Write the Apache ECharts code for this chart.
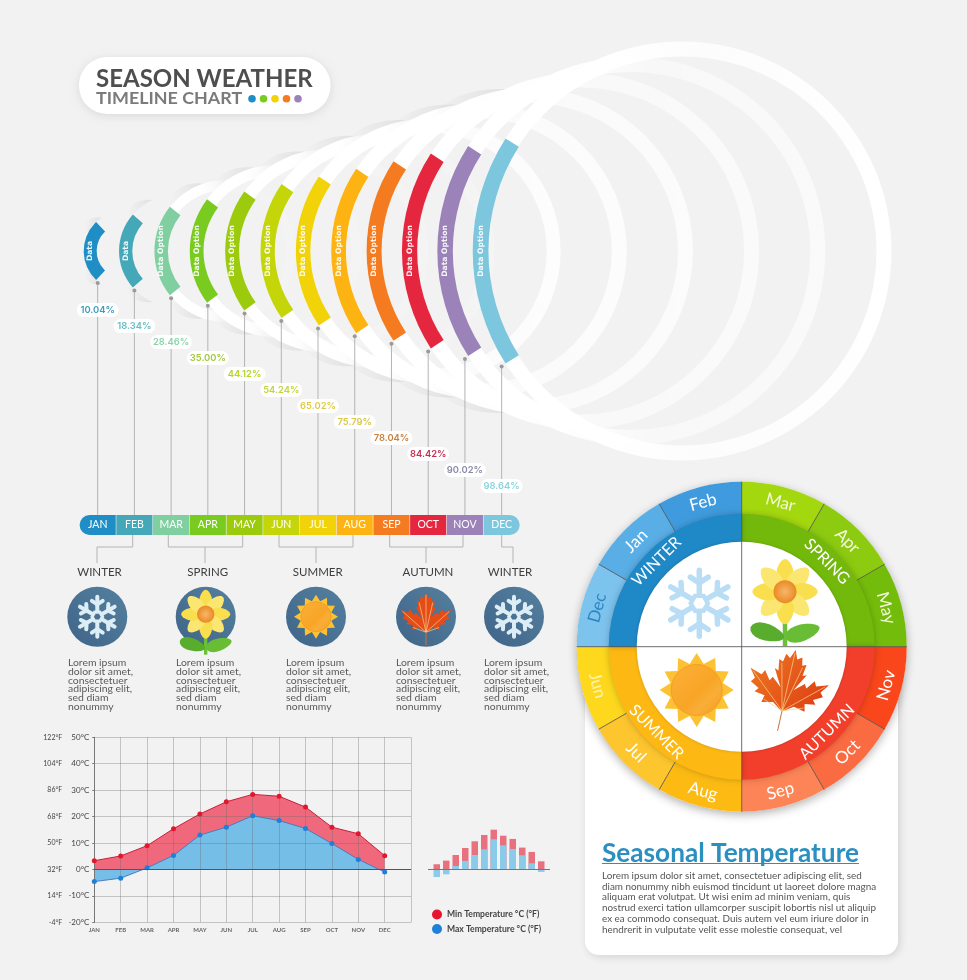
<!DOCTYPE html>
<html>
<head>
<meta charset="utf-8">
<title>Season Weather Timeline Chart</title>
<script src="https://cdn.jsdelivr.net/npm/echarts@6/dist/echarts.min.js"></script>
<style>
html, body { margin: 0; padding: 0; background: #f2f2f2; }
#main { width: 967px; height: 980px; }
</style>
</head>
<body>
<div id="main"></div>
<script>
// ---- data ----
var months = ['JAN', 'FEB', 'MAR', 'APR', 'MAY', 'JUN', 'JUL', 'AUG', 'SEP', 'OCT', 'NOV', 'DEC'];
var percents = [10.04, 18.34, 28.46, 35.00, 44.12, 54.24, 65.02, 75.79, 78.04, 84.42, 90.02, 98.64];
var arcLabels = ['Data', 'Data', 'Data Option', 'Data Option', 'Data Option', 'Data Option', 'Data Option', 'Data Option', 'Data Option', 'Data Option', 'Data Option', 'Data Option'];
var minTemp = [3.3, 5.1, 9, 15.4, 21, 25.6, 28.4, 27.7, 23.6, 16, 13.5, 5.2];
var maxTemp = [-4.6, -3.3, 0.6, 5.3, 13, 16, 20.3, 18.5, 15.5, 9.8, 3.8, -1];
var miniMin = [3.6, 6.2, 10.2, 15.2, 20, 24.5, 28.3, 24, 21.7, 15.5, 12.4, 5.7];
var miniMax = [-5.5, -3.6, 2.4, 6, 10.2, 14.3, 21.4, 17.1, 14.5, 10, 4.3, -1.9];
var fLabels = ['-4°F', '14°F', '32°F', '50°F', '68°F', '86°F', '104°F', '122°F'];
var wheelMonths = ['Mar', 'Apr', 'May', 'Nov', 'Oct', 'Sep', 'Aug', 'Jul', 'Jun', 'Dec', 'Jan', 'Feb'];
var wheelSeasons = ['SPRING', 'AUTUMN', 'SUMMER', 'WINTER'];
var seasonNames = ['WINTER', 'SPRING', 'SUMMER', 'AUTUMN', 'WINTER'];
var seasonIcons = ['snow', 'flower', 'sun', 'leaf', 'snow'];
var loremShort = 'Lorem ipsum\ndolor sit amet,\nconsectetuer\nadipiscing elit,\nsed diam\nnonummy';
var loremLong = 'Lorem ipsum dolor sit amet, consectetuer adipiscing elit, sed\ndiam nonummy nibh euismod tincidunt ut laoreet dolore magna\naliquam erat volutpat. Ut wisi enim ad minim veniam, quis\nnostrud exerci tation ullamcorper suscipit lobortis nisl ut aliquip\nex ea commodo consequat. Duis autem vel eum iriure dolor in\nhendrerit in vulputate velit esse molestie consequat, vel';

// ---- colours ----
var monthColors = ['#1f8ec4', '#45a8b8', '#7fcfa0', '#7acb1f', '#9ccb0e', '#c4d50a', '#f2d30a', '#fdb413', '#f47b20', '#e5263f', '#9b82b8', '#7cc7de'];
var pctColors = ['#3c9cbc', '#68bcc4', '#8cd4a8', '#a4c83c', '#b4d42c', '#c4d43c', '#e0cc40', '#d8c844', '#c88040', '#c43050', '#8a8aa8', '#8cd4dc'];
var ringFade = [0.12, 0.12, 0.12, 0.12, 0.14, 0.2, 0.85, 0.8, 0.75, 0.65, 0.6, 1];
var wheelMonthColors = ['#a4d80e', '#8ccb10', '#74bc0b', '#f9461a', '#fb6b42', '#fc8456', '#fcba13', '#fdc52e', '#fdd81d', '#7cc3ee', '#59aee6', '#3f9bdd'];
var wheelMonthText = ['#f4f8dc', '#f4f8dc', '#f4f8dc', '#fff', '#fff', '#fff', '#fff', '#fff', '#fff3b0', '#2e86c1', '#fff', '#fff'];
var wheelSeasonColors = ['#72b90b', '#f23f2b', '#fdb813', '#1f88c6'];
var FONT = 'Lato', WIDE = '"DejaVu Sans"';

var wheelX = 741.7, wheelY = 646.7;
var arcY = 251;

function arcGeom(i, stemX) {
	var left = stemX - (14 + 1.36 * i);
	var r = 40 + 15.4 * i;
	return { cx: left + r, r: r, hh: 29 + 7.6 * i, w: 13 + 0.25 * i };
}

// soft wedge on the outer side of a ring, near its top and bottom
function ringWedge(g, sign) {
	var tipX = Math.min(22, g.r * 0.55);
	var a0 = Math.acos(-tipX / g.r);
	var pts = [], n = 10, sweep = 0.5;
	for (var k = 0; k <= n; k++) {
		var a = a0 + sweep * k / n;
		pts.push([g.cx + Math.cos(a) * g.r, arcY - sign * Math.sin(a) * g.r]);
	}
	for (k = n; k >= 0; k--) {
		a = a0 + sweep * k / n;
		var rr = g.r + Math.sin(k / n * Math.PI * 0.75) * 7;
		pts.push([g.cx + Math.cos(a) * rr, arcY - sign * Math.sin(a) * rr]);
	}
	return {
		type: 'polygon', shape: { points: pts },
		style: {
			fill: new echarts.graphic.LinearGradient(1, 0, 0, 0, [
				{ offset: 0, color: 'rgba(0,0,0,0.07)' },
				{ offset: 1, color: 'rgba(0,0,0,0)' }
			])
		}
	};
}

// white rings behind the coloured arcs
function renderRing(params, api) {
	var i = api.value(0);
	var x = api.coord([i, 0])[0];
	var g = arcGeom(i, x);
	var fade = ringFade[i];
	var kids = [];
	if (i < 9) {
		kids.push(ringWedge(g, 1));
		kids.push(ringWedge(g, -1));
	}
	// the two smallest arcs have no visible ring, only the soft shade
	if (i >= 2) {
		kids.push({
			type: 'ring',
			shape: { cx: g.cx, cy: arcY, r: g.r, r0: g.r - Math.min(15, 8 + i) },
			style: {
				fill: new echarts.graphic.LinearGradient(0, 0, 1, 0, [
					{ offset: 0, color: 'rgba(255,255,255,1)' },
					{ offset: 0.32, color: 'rgba(255,255,255,1)' },
					{ offset: 0.55, color: 'rgba(255,255,255,' + fade * 0.8 + ')' },
					{ offset: 1, color: 'rgba(255,255,255,' + fade + ')' }
				])
			}
		});
	}
	return { type: 'group', children: kids };
}

// coloured arc, stem, percent pill and the timeline cell of a month
function renderMonth(params, api) {
	var i = api.value(0);
	var x = api.coord([i, 0])[0];
	var band = api.size([1, 0])[0];
	var g = arcGeom(i, x);
	var a = Math.asin(g.hh / g.r);
	var bottom = arcY + g.hh + 3;
	var pillY = api.coord([i, 310 + 16 * i])[1];
	var top = api.coord([i, 515])[1], h = 20;
	var radius = i == 0 ? [10, 0, 0, 10] : (i == 11 ? [0, 10, 10, 0] : 0);
	var kids = [
		{ type: 'line', shape: { x1: x, y1: bottom, x2: x, y2: top }, style: { stroke: '#b4b4b4', lineWidth: 1 } },
		{ type: 'circle', shape: { cx: x, cy: bottom, r: 2 }, style: { fill: '#9a9a9a' } },
		{ type: 'sector', shape: { cx: g.cx, cy: arcY, r: g.r, r0: g.r - g.w, startAngle: Math.PI - a, endAngle: Math.PI + a }, style: { fill: monthColors[i] } },
		{ type: 'text', x: g.cx - g.r + g.w / 2, y: arcY, rotation: Math.PI / 2,
			style: { text: arcLabels[i], x: 0, y: 0, fill: '#fff', opacity: 0.92, font: 'bold 7.6px ' + WIDE, align: 'center', verticalAlign: 'middle' } },
		{ type: 'rect', shape: { x: x - 21, y: pillY - 7, width: 42, height: 14, r: 7 }, style: { fill: '#fff' } },
		{ type: 'text', style: { text: percents[i].toFixed(2) + '%', x: x, y: pillY, fill: pctColors[i], font: '600 9.4px Inter', align: 'center', verticalAlign: 'middle' } },
		{ type: 'rect', shape: { x: x - band / 2 + 0.3, y: top, width: band - 0.6, height: h, r: radius }, style: { fill: monthColors[i] } },
		{ type: 'text', style: { text: months[i], x: x, y: top + h / 2, fill: '#fff', font: '10.5px ' + FONT, align: 'center', verticalAlign: 'middle' } }
	];
	return { type: 'group', children: kids };
}

// ---- icon helpers, each returns a flat list of graphic elements ----
function blob(cx, cy, len, wid, ang, fill, z) {
	var pts = [];
	for (var k = 0; k < 20; k++) {
		var t = k / 20 * Math.PI * 2;
		var px = Math.cos(t) * len, py = Math.sin(t) * wid * (1 - 0.2 * Math.cos(t));
		pts.push([cx + px * Math.cos(ang) - py * Math.sin(ang), cy + px * Math.sin(ang) + py * Math.cos(ang)]);
	}
	return { type: 'polygon', shape: { points: pts }, style: { fill: fill }, z: z };
}

function snowIcon(cx, cy, R, color, lw, z) {
	var out = [];
	function seg(x1, y1, x2, y2) {
		out.push({ type: 'line', shape: { x1: x1, y1: y1, x2: x2, y2: y2 }, style: { stroke: color, lineWidth: lw, lineCap: 'round' }, z: z });
	}
	var hex = [];
	for (var k = 0; k < 6; k++) {
		var a = Math.PI / 2 + k * Math.PI / 3;
		var c = Math.cos(a), s = Math.sin(a);
		seg(cx + c * R * 0.28, cy + s * R * 0.28, cx + c * R, cy + s * R);
		var bx = cx + c * R * 0.62, by = cy + s * R * 0.62;
		seg(bx, by, bx + Math.cos(a + 1) * R * 0.32, by + Math.sin(a + 1) * R * 0.32);
		seg(bx, by, bx + Math.cos(a - 1) * R * 0.32, by + Math.sin(a - 1) * R * 0.32);
		hex.push([cx + Math.cos(a + Math.PI / 6) * R * 0.26, cy + Math.sin(a + Math.PI / 6) * R * 0.26]);
	}
	out.push({ type: 'polygon', shape: { points: hex }, style: { fill: 'none', stroke: color, lineWidth: lw * 0.8 }, z: z });
	return out;
}

function flowerIcon(cx, cy, R, stemEnd, z) {
	var out = [];
	// stem and leaves
	out.push({ type: 'line', shape: { x1: cx, y1: cy, x2: cx, y2: stemEnd }, style: { stroke: '#6cbf3a', lineWidth: R * 0.14 }, z: z });
	var ly = stemEnd - R * 0.42;
	out.push(blob(cx - R * 0.55, ly, R * 0.55, R * 0.26, 0.3, '#58ad2c', z));
	out.push(blob(cx + R * 0.55, ly, R * 0.55, R * 0.26, -0.3, '#69bd35', z));
	for (var k = 0; k < 8; k++) {
		var a = k * Math.PI / 4 - Math.PI / 2;
		out.push(blob(cx + Math.cos(a) * R * 0.6, cy + Math.sin(a) * R * 0.6, R * 0.42, R * 0.27, a, k % 2 ? '#fbe672' : '#f9de4e', z + 1));
	}
	out.push({
		type: 'circle', shape: { cx: cx, cy: cy, r: R * 0.36 },
		style: { fill: new echarts.graphic.RadialGradient(0.5, 0.5, 0.5, [{ offset: 0, color: '#f9b66a' }, { offset: 1, color: '#e98a25' }]) }, z: z + 2
	});
	return out;
}

function sunIcon(cx, cy, R, r, z) {
	var pts = [];
	for (var k = 0; k < 24; k++) {
		var a = k * Math.PI / 12 - Math.PI / 2;
		var d = k % 2 ? r * 1.06 : R;
		pts.push([cx + Math.cos(a) * d, cy + Math.sin(a) * d]);
	}
	return [
		{ type: 'polygon', shape: { points: pts }, style: { fill: '#fcc233' }, z: z },
		{ type: 'circle', shape: { cx: cx, cy: cy, r: r },
			style: { fill: new echarts.graphic.LinearGradient(0, 0, 1, 1, [{ offset: 0, color: '#fbb03a' }, { offset: 0.55, color: '#f8a526' }, { offset: 0.7, color: '#f9ae38' }, { offset: 1, color: '#f59a1b' }]), stroke: '#f2a022', lineWidth: 1 }, z: z + 1 }
	];
}

function leafIcon(cx, cy, R, rot, fill, z) {
	var half = [[0, -1], [0.09, -0.78], [0.2, -0.86], [0.24, -0.66], [0.34, -0.7], [0.3, -0.42], [0.4, -0.46], [0.16, -0.03], [0.4, -0.24], [0.46, -0.14], [0.62, -0.36], [0.68, -0.24], [0.98, -0.34], [0.82, -0.12], [0.9, -0.02], [0.68, 0.1], [0.76, 0.2], [0.5, 0.24], [0.54, 0.42], [0.26, 0.36], [0.03, 0.52]];
	var unit = half.concat(half.slice().reverse().map(function (p) { return [-p[0], p[1]]; }));
	function tf(p) {
		return [cx + R * (p[0] * Math.cos(rot) - p[1] * Math.sin(rot)), cy + R * (p[0] * Math.sin(rot) + p[1] * Math.cos(rot))];
	}
	var out = [{ type: 'polygon', shape: { points: unit.map(tf) }, style: { fill: fill }, z: z }];
	var base = tf([0, 0.52]);
	[[0, -0.92], [0.9, -0.28], [-0.9, -0.28], [0.5, 0.34], [-0.5, 0.34], [0.26, -0.62], [-0.26, -0.62]].forEach(function (t) {
		var e = tf(t);
		out.push({ type: 'line', shape: { x1: base[0], y1: base[1], x2: e[0], y2: e[1] }, style: { stroke: '#f8cf8a', lineWidth: Math.max(0.7, R * 0.018) }, z: z + 1 });
	});
	var st = tf([0, 1.02]);
	out.push({ type: 'line', shape: { x1: base[0], y1: base[1], x2: st[0], y2: st[1] }, style: { stroke: '#c9733a', lineWidth: 1 }, z: z + 1 });
	return out;
}

// ---- fixed decoration ----
var graphics = [];
function add(list) { graphics = graphics.concat(list); }

// title pill
add([{ type: 'rect', shape: { x: 79, y: 57, width: 251.5, height: 57, r: 28 }, style: { fill: '#fff', shadowBlur: 8, shadowColor: 'rgba(0,0,0,0.1)', shadowOffsetY: 2 }, z: 5 }]);
['#1f8ec4', '#7acb1f', '#f2d30a', '#f47b20', '#9b82b8'].forEach(function (c, i) {
	add([{ type: 'circle', shape: { cx: 252 + i * 11.5, cy: 98.7, r: 3.8 }, style: { fill: c }, z: 6 }]);
});

// brackets under the timeline
var lineGrey = '#b4b4b4';
[
	[[97, 563], [97, 547], [132.7, 547], [132.7, 535]],
	[[168.3, 535], [168.3, 547], [242.7, 547], [242.7, 535]],
	[[205, 547], [205, 563]],
	[[279, 535], [279, 547], [353, 547], [353, 535]],
	[[316, 547], [316, 563]],
	[[389.7, 535], [389.7, 547], [463, 547], [463, 535]],
	[[426, 547], [426, 563]],
	[[501.7, 535], [501.7, 547], [513, 547], [513, 563]]
].forEach(function (pts) {
	add([{ type: 'polyline', shape: { points: pts }, style: { stroke: lineGrey, fill: 'none', lineWidth: 1 }, z: 1 }]);
});

// season columns
var columnX = [97.3, 205.7, 316, 426, 514];
var labelX = [99.5, 207.7, 317.7, 428, 510];
var textX = [68, 176, 286, 396, 484];
seasonNames.forEach(function (name, i) {
	var cx = columnX[i], cy = 616.7;
	add([
		{ type: 'text', style: { text: name, x: labelX[i], y: 572, fill: '#3d3d3d', font: '11.5px ' + FONT, align: 'center', verticalAlign: 'middle' }, z: 5 },
		{ type: 'circle', shape: { cx: cx, cy: cy, r: 30 },
			style: { fill: new echarts.graphic.LinearGradient(1, 0, 0, 1, [{ offset: 0, color: '#55809f' }, { offset: 1, color: '#3f6488' }]) }, z: 5 },
		{ type: 'text', style: { text: loremShort, x: textX[i], y: 658.5, fill: '#5a5a5a', font: '10.4px ' + FONT, lineHeight: 8.67, align: 'left', verticalAlign: 'top' }, z: 5 }
	]);
	if (seasonIcons[i] == 'snow') add(snowIcon(cx, cy, 20, '#dcedf5', 4, 6));
	if (seasonIcons[i] == 'flower') add(flowerIcon(cx, cy - 2.5, 24, cy + 38, 6));
	if (seasonIcons[i] == 'sun') add(sunIcon(cx, cy, 22, 15, 6));
	if (seasonIcons[i] == 'leaf') add(leafIcon(cx, cy + 2, 26, 0, '#e44c18', 6));
});

// white card and wheel decoration
add([
	{ type: 'rect', shape: { x: 585, y: 660, width: 313, height: 295, r: 14 }, style: { fill: '#fff', shadowBlur: 8, shadowColor: 'rgba(0,0,0,0.13)', shadowOffsetX: 2, shadowOffsetY: 2 }, z: 0 },
	{ type: 'circle', shape: { cx: wheelX, cy: wheelY, r: 165 }, style: { fill: '#fff', shadowBlur: 10, shadowColor: 'rgba(0,0,0,0.3)', shadowOffsetY: 3 }, z: 1 },
	{ type: 'circle', shape: { cx: wheelX, cy: wheelY, r: 105 }, style: { fill: '#fff', shadowBlur: 3, shadowColor: 'rgba(0,0,0,0.2)' }, z: 5 },
	{ type: 'line', shape: { x1: wheelX - 165, y1: wheelY, x2: wheelX + 165, y2: wheelY }, style: { stroke: '#4a4a4a', lineWidth: 0.8 }, z: 6 },
	{ type: 'line', shape: { x1: wheelX, y1: wheelY - 165, x2: wheelX, y2: wheelY + 165 }, style: { stroke: '#4a4a4a', lineWidth: 0.8 }, z: 6 }
]);
[30, 60, 120, 150, 210, 240, 300, 330].forEach(function (deg) {
	var a = deg * Math.PI / 180;
	add([{ type: 'line', shape: { x1: wheelX + Math.cos(a) * 133, y1: wheelY + Math.sin(a) * 133, x2: wheelX + Math.cos(a) * 165, y2: wheelY + Math.sin(a) * 165 }, style: { stroke: '#4a4a4a', lineWidth: 0.8 }, z: 6 }]);
});
add(snowIcon(699.3, 603.3, 33, '#b9ddf5', 5.5, 7));
add(flowerIcon(785, 591.7, 32, 646, 7));
add(sunIcon(696.7, 690, 37, 25.5, 7));
add(leafIcon(786.7, 690, 41, 0.22, new echarts.graphic.LinearGradient(0, 0, 1, 1, [{ offset: 0, color: '#ee7a22' }, { offset: 1, color: '#dd3a12' }]), 7));

// card text
add([
	{ type: 'line', shape: { x1: 602, y1: 863.5, x2: 859, y2: 863.5 }, style: { stroke: '#2b8fc0', lineWidth: 1.2 }, z: 6 },
	{ type: 'text', style: { text: loremLong, x: 602, y: 870.5, fill: '#555', font: '9.9px ' + FONT, lineHeight: 10.7, align: 'left', verticalAlign: 'top' }, z: 6 },
	{ type: 'line', shape: { x1: 428, y1: 869.5, x2: 550, y2: 869.5 }, style: { stroke: '#6a7a86', lineWidth: 1 }, z: 6 }
]);

// ---- chart ----
var myChart = echarts.init(document.getElementById('main'));
var monthData = months.map(function (m, i) { return [i, percents[i]]; });
var MIN_NAME = 'Min Temperature °C (°F)', MAX_NAME = 'Max Temperature °C (°F)';

var option = {
	backgroundColor: '#f2f2f2',
	animation: false,
	title: [
		{ text: 'SEASON WEATHER', left: 96, top: 67, padding: 0, textStyle: { fontFamily: FONT, fontSize: 24, fontWeight: 'bold', color: '#4e4e4e' } },
		{ text: 'TIMELINE CHART', left: 96, top: 89, padding: 0, textStyle: { fontFamily: FONT, fontSize: 17.9, fontWeight: 'bold', color: '#7b7b7b' } },
		{ text: 'Seasonal Temperature', left: 602, top: 840.5, padding: 0, textStyle: { fontFamily: FONT, fontSize: 26.2, fontWeight: 'bold', color: '#2b8fc0' } }
	],
	legend: {
		orient: 'vertical', left: 432, top: 909.5, padding: 0, itemGap: 4.5, itemWidth: 10, itemHeight: 10, icon: 'circle',
		textStyle: { fontFamily: FONT, fontSize: 8.6, fontWeight: 'bold', color: '#444' },
		data: [{ name: MIN_NAME, itemStyle: { color: '#e8142d' } }, { name: MAX_NAME, itemStyle: { color: '#1e80d8' } }]
	},
	grid: [
		{ left: 94.3, top: 737.3, width: 316.8, height: 185 },
		{ left: 79.3, top: 0, width: 440.7, height: 980 },
		{ left: 432, top: 813.3, width: 114, height: 70 }
	],
	xAxis: [
		{
			type: 'category', gridIndex: 0, boundaryGap: false, data: months.concat(['']), z: 3,
			axisLine: { show: false }, axisTick: { show: false },
			axisLabel: { interval: 0, fontFamily: FONT, fontSize: 6, fontWeight: 'bold', color: '#666', margin: 5 },
			splitLine: { show: true, lineStyle: { color: 'rgba(110,110,110,0.35)', width: 1 } }
		},
		{ type: 'category', gridIndex: 1, data: months, show: false },
		{ type: 'category', gridIndex: 2, data: months, show: false }
	],
	yAxis: [
		{
			type: 'value', gridIndex: 0, min: -20, max: 50, interval: 10, z: 3,
			axisLine: { show: true, lineStyle: { color: '#777' } }, axisTick: { show: true, length: 2, lineStyle: { color: '#777' } },
			axisLabel: { fontFamily: FONT, fontSize: 8, color: '#444', margin: 5, formatter: '{value}°C' },
			splitLine: { show: true, lineStyle: { color: 'rgba(110,110,110,0.35)', width: 1 } }
		},
		{
			type: 'value', gridIndex: 0, min: -20, max: 50, interval: 10, position: 'left', offset: 27,
			axisLine: { show: false }, axisTick: { show: false }, splitLine: { show: false },
			axisLabel: { fontFamily: FONT, fontSize: 7, color: '#444', margin: 5, formatter: function (v) { return fLabels[(v + 20) / 10]; } }
		},
		{ type: 'value', gridIndex: 1, min: 0, max: 980, inverse: true, show: false },
		{ type: 'value', gridIndex: 2, min: -10, max: 40, show: false }
	],
	series: [
		{ type: 'custom', xAxisIndex: 1, yAxisIndex: 2, z: 1, silent: true, renderItem: renderRing, data: monthData },
		{ type: 'custom', xAxisIndex: 1, yAxisIndex: 2, z: 3, silent: true, renderItem: renderMonth, data: monthData },
		// areas below the grid lines, lines and dots above them
		{ name: MIN_NAME, type: 'line', z: 1, data: minTemp, symbol: 'none', lineStyle: { width: 0 }, areaStyle: { color: '#f0687c', opacity: 1, origin: 0 } },
		{ name: MAX_NAME, type: 'line', z: 2, data: maxTemp, symbol: 'none', lineStyle: { width: 0 }, areaStyle: { color: '#74bee8', opacity: 1, origin: 0 } },
		{
			name: MIN_NAME, type: 'line', z: 4, data: minTemp, symbol: 'circle', symbolSize: 5,
			lineStyle: { color: '#c8203a', width: 1 }, itemStyle: { color: '#e0182d' },
			markLine: { silent: true, symbol: 'none', label: { show: false }, lineStyle: { color: '#3f5a6a', width: 1.2, type: 'solid' }, data: [{ yAxis: 0 }] }
		},
		{
			name: MAX_NAME, type: 'line', z: 4, data: maxTemp, symbol: 'circle', symbolSize: 5,
			lineStyle: { color: '#4a7cc0', width: 1 }, itemStyle: { color: '#1e80d8' }
		},
		{ name: 'mini min', type: 'bar', xAxisIndex: 2, yAxisIndex: 3, data: miniMin, barWidth: 6.5, barGap: '-100%', itemStyle: { color: '#e9707f' } },
		{ name: 'mini max', type: 'bar', xAxisIndex: 2, yAxisIndex: 3, data: miniMax, barWidth: 6.5, barGap: '-100%', itemStyle: { color: '#8acbea' } },
		{
			type: 'pie', center: [wheelX, wheelY], radius: [128, 165], startAngle: 90, silent: true, avoidLabelOverlap: false,
			label: { position: 'inside', rotate: 'tangential', fontFamily: FONT, fontSize: 17 }, labelLine: { show: false },
			data: wheelMonths.map(function (m, i) {
				return { name: m, value: 1, itemStyle: { color: wheelMonthColors[i] }, label: { color: wheelMonthText[i] } };
			})
		},
		{
			type: 'pie', center: [wheelX, wheelY], radius: [102, 133], startAngle: 90, silent: true, avoidLabelOverlap: false,
			itemStyle: { shadowBlur: 6, shadowColor: 'rgba(0,0,0,0.22)' },
			label: { position: 'inside', rotate: 'tangential', fontFamily: FONT, fontSize: 16, color: '#fff' }, labelLine: { show: false },
			data: wheelSeasons.map(function (m, i) {
				return { name: m, value: 1, itemStyle: { color: wheelSeasonColors[i] } };
			})
		}
	],
	graphic: { elements: graphics }
};
myChart.setOption(option);
</script>
</body>
</html>
